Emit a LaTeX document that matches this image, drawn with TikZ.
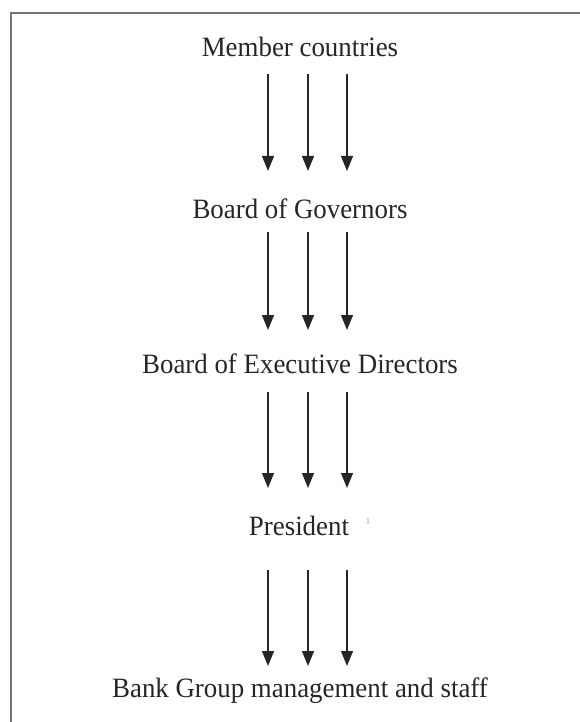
\documentclass[tikz,border=0pt]{standalone}
\usepackage{fontspec}
\setmainfont[FakeStretch=0.96]{Liberation Serif}
\usetikzlibrary{arrows.meta,calc}
\begin{document}
\begin{tikzpicture}[x=1pt,y=-1pt,
  lbl/.style={font=\fontsize{28}{31}\selectfont, text=black!85, inner sep=0pt, anchor=base},
  fnmark/.style={font=\fontsize{9}{10}\selectfont, text=black!40, inner sep=0pt, anchor=base},
  arr/.style={-{Triangle[width=12pt,length=15pt]}, line width=1.2pt, draw=black!85},
  frame/.style={draw=black!55, line width=1.3pt}]
\useasboundingbox (0,0) rectangle (580,722);
\draw[frame] (580,13) -- (11,13) -- (11,722);
\node[lbl] (mc)   at (300,57)  {Member countries};
\node[lbl] (bg)   at (300,218) {Board of Governors};
\node[lbl] (bed)  at (300,373) {Board of Executive Directors};
\node[lbl] (pres) at (299,535) {President};
\node[fnmark] (fn) at (368,524) {1};
\node[lbl] (bgm)  at (300,697) {Bank Group management and staff};
\foreach \d in {-32,8,47} {
  \draw[arr] ($(mc.base)+(\d,17)$)   -- ($(bg.base)+(\d,-47)$);
  \draw[arr] ($(bg.base)+(\d,14)$)   -- ($(bed.base)+(\d,-43)$);
  \draw[arr] ($(bed.base)+(\d,19)$)  -- ($(pres.base)+(\d+1,-47)$);
  \draw[arr] ($(pres.base)+(\d+1,35)$) -- ($(bgm.base)+(\d,-31)$);
}
\end{tikzpicture}
\end{document}
